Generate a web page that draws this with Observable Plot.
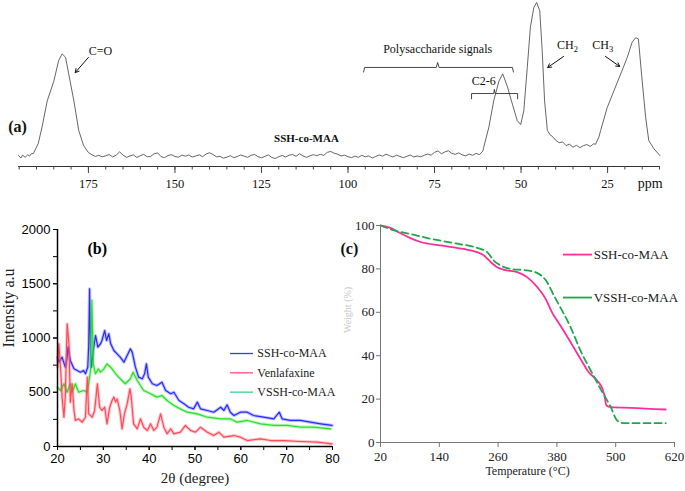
<!DOCTYPE html>
<html><head><meta charset="utf-8">
<script src="https://cdn.jsdelivr.net/npm/d3@7"></script>
<script src="https://cdn.jsdelivr.net/npm/@observablehq/plot@0.6"></script>
<style>
body{margin:0;background:#fff;}
#wrap{position:relative;width:685px;height:491px;overflow:hidden;background:#fff;}
#wrap svg{position:absolute;}
</style></head><body><div id="wrap"></div>
<script>
const SERIF = "'Liberation Serif','Times New Roman',serif";
const SANS = "'Liberation Sans',Arial,sans-serif";

// ---------- (a) 13C NMR of SSH-co-MAA ----------
const nmrLeft = [[195.2,6.7],[194.5,5.2],[194,7.0],[193.3,5.6],[192.5,7.2],[192,6.3],[191.5,7.8],[190.9,7.9],[189.5,14],[188.4,24],[186.9,40],[185.0,52],[183.6,64.6],[182.6,68.7],[181.6,66.6],[180.7,56.5],[179.2,40],[177.8,22],[176.4,12.8]];
const nmrBasePpm = d3.range(175, 60, -1);
const nmrBaseInt = [8.5,7.2,6.1,6.8,5.9,6.5,7.3,5.8,6.9,8.9,
  7.0,5.6,6.4,7.1,5.5,6.6,7.4,5.9,6.2,7.8,
  8.3,6.0,5.4,6.7,7.2,6.1,5.7,6.9,6.3,7.0,
  5.8,6.4,7.1,6.0,7.6,8.4,7.3,5.9,6.2,5.1,
  5.7,6.6,5.4,6.1,7.0,6.3,5.6,6.8,7.4,6.0,
  5.3,6.2,7.1,5.5,4.9,6.0,6.7,5.8,6.9,7.3,
  6.2,7.8,6.4,5.6,6.5,7.2,6.6,7.4,6.8,8.6,
  9.2,8.1,7.5,6.4,7.0,6.0,5.4,6.3,5.6,6.8,
  5.9,6.5,5.2,6.1,7.0,6.3,7.5,6.6,5.8,6.9,
  6.1,5.4,6.2,7.0,5.8,6.4,5.9,6.8,7.6,6.9,
  8.6,9.5,7.8,8.9,9.6,8.0,7.4,8.3,7.1,6.5,
  7.6,6.8,8.0,7.2,9.5];
const nmrRight = [[60.8,11.6],[59.3,24],[57.9,40],[56.4,52],[55.3,56.5],[54.0,49],[52.5,38],[51.1,28],[50.1,25.6],[49.2,34],[48.2,60.5],[47.3,85],[46.3,97],[45.5,100],[44.6,95],[43.9,71],[43.2,40],[42.4,22],[41.5,19],[41,18.5],[40,16],[39,14.5],[38,15],[37,12.8],[36,13.6],[35,11.8],[34,12.9],[33,11.5],[32,12.7],[31,13.4],[30,12.2],[29,13.9],[28.5,13.5],[27.5,18],[27.0,22],[25.1,36],[23.2,46],[21.2,56.5],[19.3,66.6],[17.9,75.8],[16.9,78.5],[16.1,77.8],[15.0,52],[14.0,30],[13.1,15.8],[11.6,10.8],[9.9,6.7]];
const nmrMajorTicks = [175,150,125,100,75,50,25];

// ---------- (b) XRD ----------
const xrdSSH = [[20,823],[20.3,777],[21,823],[21.7,731],[22.1,823],[22.3,916],[22.8,793],[23.6,716],[25,685],[25.7,700],[26.1,670],[26.6,731],[26.8,916],[27.0,1454],[27.2,885],[27.4,731],[27.8,885],[28.3,1023],[28.8,916],[29.4,947],[29.7,977],[30.3,1069],[30.7,977],[31.2,1039],[31.6,947],[32.3,885],[33.0,854],[33.7,823],[34.5,777],[35.2,839],[35.9,900],[36.3,870],[37.0,731],[37.7,639],[38.5,624],[39.0,670],[39.4,762],[39.8,639],[40.7,578],[41.7,562],[42.8,593],[43.6,516],[44.7,486],[45.4,500],[46.5,424],[47.6,394],[48.6,362],[49.7,347],[50.5,409],[51.2,347],[52.7,332],[54.1,316],[55.6,362],[56.3,332],[57.0,384],[57.7,316],[58.5,286],[59.9,316],[61.4,316],[62.8,286],[65.0,270],[67.2,255],[68.4,316],[69.0,255],[70.8,240],[73.0,240],[75.2,224],[77.4,209],[79.9,194]];
const xrdVen = [[20,731],[20.3,947],[20.7,700],[21.0,455],[21.4,270],[21.7,455],[22.1,1131],[22.5,947],[22.8,409],[23.2,578],[23.6,332],[23.9,240],[24.6,255],[25.4,224],[26.1,270],[26.5,639],[26.8,301],[27.6,270],[28.1,332],[28.7,578],[29.2,362],[29.7,332],[30.3,362],[30.8,209],[31.4,362],[31.9,424],[32.3,455],[32.7,409],[33.0,439],[33.6,332],[34.1,163],[34.6,301],[35.2,393],[35.8,532],[36.1,455],[36.6,209],[37.4,163],[38.1,255],[38.8,178],[39.6,148],[40.3,209],[41.0,148],[41.7,178],[42.5,301],[43.2,178],[43.9,117],[44.7,163],[45.4,117],[46.8,132],[47.9,194],[49.0,148],[50.1,132],[51.2,178],[52.7,132],[54.1,101],[55.2,132],[56.3,86],[58.5,101],[59.9,86],[61.4,55],[64.3,71],[66.5,55],[69.4,55],[73.0,46],[76.7,40],[79.9,25]];
const xrdVSSH = [[20,547],[20.7,516],[21.4,578],[22.1,500],[22.8,578],[23.2,500],[23.9,578],[24.6,500],[25.7,516],[26.5,500],[26.8,578],[27.2,700],[27.5,1346],[27.8,762],[28.3,670],[28.9,716],[29.4,685],[30.1,716],[30.8,762],[31.6,731],[32.7,670],[33.7,624],[34.8,578],[35.9,624],[36.5,685],[37.4,608],[38.8,516],[40.3,486],[41.7,455],[42.8,470],[43.9,424],[45.4,378],[46.8,347],[48.3,316],[50.5,301],[52.7,270],[55.6,255],[57.7,255],[59.2,224],[61.4,240],[64.3,209],[67.2,194],[70.1,194],[73.0,178],[75.9,178],[79.6,163]];
const xrdNames = ["SSH-co-MAA","Venlafaxine","VSSH-co-MAA"];

// ---------- (c) TGA ----------
const tgaSSH = [[20,100],[40,98.9],[61,96.4],[81,94.2],[102,92.4],[142,90.8],[190,89.2],[217,87.7],[231,86.2],[245,83.1],[258,80.8],[272,79.6],[299,78.5],[319,76.2],[340,71.6],[357,66.2],[370,60],[387,53.9],[408,46.2],[428,38.6],[445,32.4],[462,28.6],[473,24.7],[477,21.7],[481,17],[490,16.3],[530,16],[602,15.2]];
const tgaVSSH = [[20,100],[50,97.6],[81,96.1],[122,93.9],[177,91.6],[217,89.7],[238,87.7],[251,83.9],[265,81.6],[285,80],[319,79.3],[343,77.7],[360,73.9],[374,67.7],[387,62.3],[408,53.1],[428,42.4],[449,33.2],[469,24.7],[490,16.3],[503,10.1],[517,8.9],[602,8.9]];
const tgaNames = ["SSH-co-MAA","VSSH-co-MAA"];

const wrap = document.getElementById("wrap");
function place(svg, left, top){ svg.style.left = left+"px"; svg.style.top = top+"px"; wrap.appendChild(svg); }

// ----- Panel (a)
const nmr = [...nmrLeft, ...nmrBasePpm.map((p,i)=>[p,nmrBaseInt[i]]), ...nmrRight];
const pa = Plot.plot({
  width:685, height:200, marginLeft:18, marginRight:26, marginTop:2, marginBottom:34,
  x:{domain:[195.2,10]}, y:{domain:[0,100], axis:null},
  style:{fontFamily:SERIF, color:"#111", background:"transparent", overflow:"visible"},
  marks:[
    Plot.ruleY([0], {x1:195.2, x2:10, stroke:"#333", strokeWidth:1}),
    Plot.axisX(d3.range(10,196,5), {tickSize:3.5, text:null, label:null, stroke:"#444"}),
    Plot.axisX(nmrMajorTicks, {tickSize:7, tickPadding:6, label:null, fontSize:12.5, fontFamily:SERIF, stroke:"#444"}),
    Plot.line(nmr, {x:d=>d[0], y:d=>d[1], stroke:"#555", strokeWidth:0.9}),
    Plot.text([{t:"ppm", x:12.7, y:-10.4}], {x:"x", y:"y", text:"t", fontSize:14, fontFamily:SERIF}),
    Plot.text([{t:"(a)", x:195.5, y:24.4}], {x:"x", y:"y", text:"t", fontSize:16, fontWeight:"bold", fontFamily:SERIF}),
    Plot.text([{t:"SSH-co-MAA", x:112.0, y:17.1}], {x:"x", y:"y", text:"t", fontSize:11, fontWeight:"bold", fontFamily:SERIF}),
    Plot.text([{t:"C=O", x:171.5, y:70.1}], {x:"x", y:"y", text:"t", fontSize:12, fontFamily:SERIF}),
    Plot.arrow([0], {x1:175, y1:66.5, x2:178.8, y2:57.3, headLength:6, stroke:"#111", strokeWidth:1}),
    Plot.text([{t:"Polysaccharide signals", x:74.1, y:71.3}], {x:"x", y:"y", text:"t", fontSize:12, fontFamily:SERIF}),
    Plot.line([[95.5,57.6],[95.2,60.4],[74.5,60.4],[74.1,63.4],[73.7,60.4],[52.5,60.4],[52.2,57.6]], {stroke:"#333", strokeWidth:0.9}),
    Plot.text([{t:"C2-6", x:60.8, y:51.8}], {x:"x", y:"y", text:"t", fontSize:12, fontFamily:SERIF}),
    Plot.line([[64.3,41.3],[64.3,44.5],[57.9,44.5],[57.7,47],[57.5,44.5],[51,44.5],[51,41.3]], {stroke:"#333", strokeWidth:0.9}),
    Plot.text([{t:"CH2", x:36.6, y:73.8}], {x:"x", y:"y", text:"t", fontSize:12, fontFamily:SERIF}),
    Plot.arrow([0], {x1:37.7, y1:67.1, x2:42.3, y2:60.4, headLength:6, stroke:"#111", strokeWidth:1}),
    Plot.text([{t:"CH3", x:26.4, y:73.8}], {x:"x", y:"y", text:"t", fontSize:12, fontFamily:SERIF}),
    Plot.arrow([0], {x1:25.6, y1:67.1, x2:21.5, y2:61, headLength:6, stroke:"#111", strokeWidth:1})
  ]
});
d3.select(pa).selectAll("text").filter(function(){return this.textContent==="CH2"||this.textContent==="CH3";})
  .each(function(){ const s=this.textContent[2]; d3.select(this).html(`CH<tspan dy="3" font-size="8.5">${s}</tspan>`); });
place(pa, 0, 0);

// ----- Panel (b)
const xrdColors = ["#2a2aff","#ff4a5a","#28e028"];
const legendColors = ["#3a3aff","#ff4d7a","#3ccf8e"];
const xrdSeries = [xrdSSH, xrdVSSH, xrdVen];
const xrdSeriesColors = [xrdColors[0], xrdColors[2], xrdColors[1]];
const xrdMarks = xrdSeries.flatMap((s,k)=>[
  Plot.line(s, {x:d=>d[0], y:d=>d[1], stroke:xrdSeriesColors[k], strokeWidth:3.2, strokeOpacity:0.3}),
  Plot.line(s, {x:d=>d[0], y:d=>d[1], stroke:xrdSeriesColors[k], strokeWidth:1.2})
]);
const pb = Plot.plot({
  width:335, height:276, marginLeft:57, marginRight:3, marginTop:14, marginBottom:45,
  x:{domain:[20,80]}, y:{domain:[0,2000]},
  style:{fontFamily:SANS, color:"#000", background:"transparent", overflow:"visible"},
  marks:[
    Plot.axisY(d3.range(0,2001,250), {tickSize:4, text:null, label:null}),
    Plot.axisY([0,500,1000,1500,2000], {tickSize:4, tickPadding:3, tickFormat:d3.format("d"), fontSize:13, fontFamily:SANS, label:null}),
    Plot.axisX(d3.range(20,81,5), {tickSize:4, text:null, label:null}),
    Plot.axisX(d3.range(20,81,10), {tickSize:4, tickPadding:3, tickFormat:d3.format("d"), fontSize:13, fontFamily:SANS, label:null}),
    ...xrdMarks,
    Plot.ruleX([20], {stroke:"#000", strokeWidth:1.5}),
    Plot.ruleY([0], {stroke:"#000", strokeWidth:1.5}),
    Plot.ruleY(xrdNames, {y:(d,i)=>857-i*178, x1:57.75, x2:62.77, stroke:(d,i)=>legendColors[i], strokeWidth:1.3, strokeDasharray:(d,i)=>i===2?"1.5,1":null}),
    Plot.text(xrdNames, {y:(d,i)=>857-i*178, x:63.6, textAnchor:"start", fontSize:12, fontFamily:SERIF, fill:"#222"}),
    Plot.text(["(b)"], {frameAnchor:"top-left", dx:30, dy:13, fontSize:16, fontWeight:"bold", fontFamily:SERIF}),
    Plot.text(["Intensity a.u"], {frameAnchor:"left", dx:-49, dy:9.5, rotate:-90, fontSize:16, fontFamily:SERIF, fill:"#222"}),
    Plot.text(["2θ (degree)"], {frameAnchor:"bottom", dx:0, dy:36, fontSize:15, fontFamily:SERIF, fill:"#222"})
  ]
});
place(pb, 0, 215);

// ----- Panel (c)
const tgaColors = ["#ff2d9b","#1fa84a"];
const pc = Plot.plot({
  width:355, height:276, marginLeft:50, marginRight:11, marginTop:10, marginBottom:49,
  x:{domain:[20,620]}, y:{domain:[0,100]},
  style:{fontFamily:SERIF, color:"#222", background:"transparent", overflow:"visible"},
  marks:[
    Plot.axisY([0,20,40,60,80,100], {tickSize:4, tickPadding:2, fontSize:13, fontFamily:SERIF, label:null, stroke:"#777"}),
    Plot.axisX([20,140,260,380,500,620], {tickSize:5, tickPadding:4, fontSize:13, fontFamily:SERIF, label:null, stroke:"#777"}),
    Plot.ruleX([20], {stroke:"#777", strokeWidth:1}),
    Plot.ruleY([0], {stroke:"#777", strokeWidth:1}),
    Plot.line(tgaSSH, {x:d=>d[0], y:d=>d[1], stroke:tgaColors[0], strokeWidth:1.8, curve:"monotone-x"}),
    Plot.line(tgaVSSH, {x:d=>d[0], y:d=>d[1], stroke:tgaColors[1], strokeWidth:1.8, strokeDasharray:"7,4", curve:"monotone-x"}),
    Plot.ruleY(tgaNames, {y:(d,i)=>86.6-i*19.8, x1:393.5, x2:452.7, stroke:(d,i)=>tgaColors[i], strokeWidth:1.8, strokeDasharray:(d,i)=>i===1?"7,4":null}),
    Plot.text(tgaNames, {y:(d,i)=>86.6-i*19.8, x:455, textAnchor:"start", fontSize:13, fontFamily:SERIF}),
    Plot.text(["(c)"], {frameAnchor:"top-left", dx:-40, dy:17, fontSize:16, fontWeight:"bold", fontFamily:SERIF, fill:"#111"}),
    Plot.text(["Weight (%)"], {frameAnchor:"left", dx:-33, dy:-1, rotate:-90, fontSize:10, fontFamily:SERIF, fill:"#c8c8c8"}),
    Plot.text(["Temperature (°C)"], {frameAnchor:"bottom", dx:0, dy:32, fontSize:12, fontFamily:SERIF})
  ]
});
place(pc, 330, 215);
</script></body></html>
